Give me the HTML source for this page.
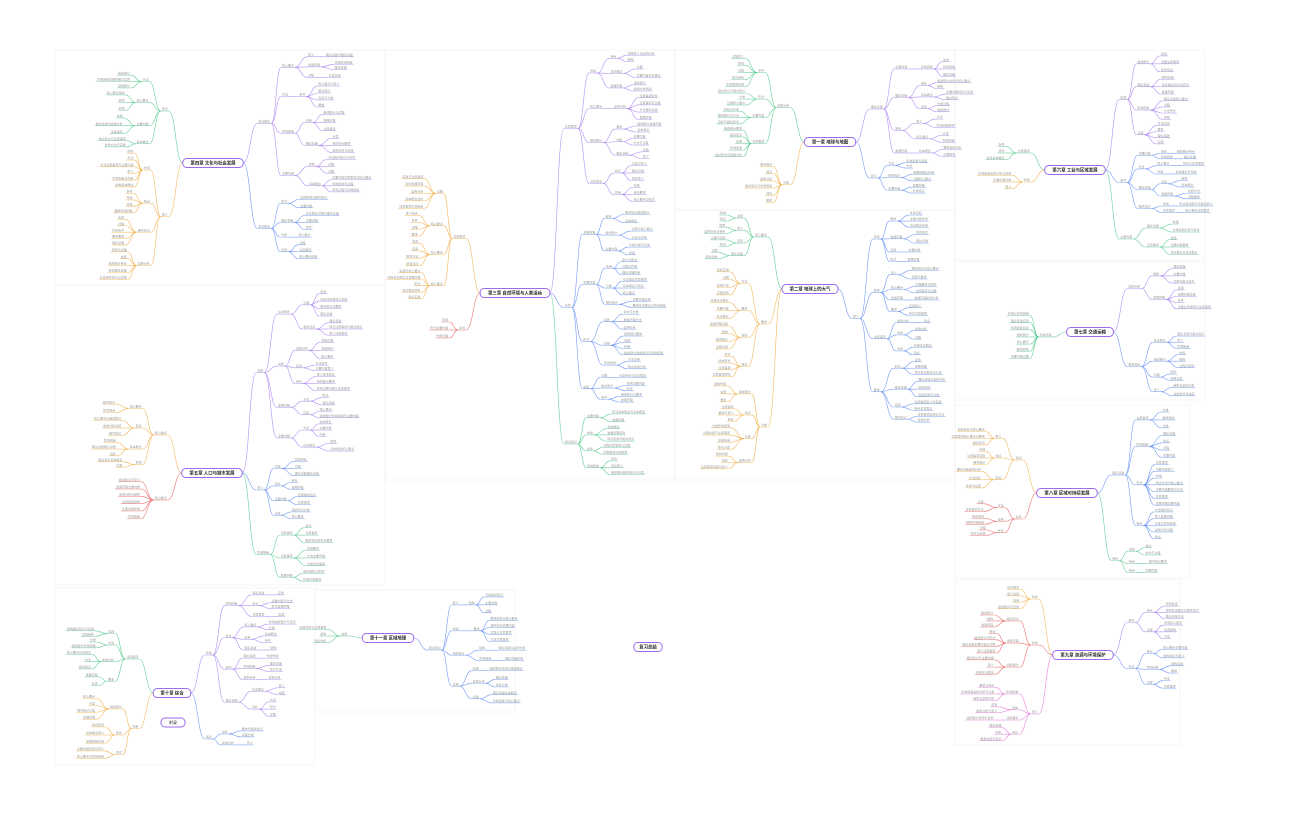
<!DOCTYPE html>
<html><head><meta charset="utf-8">
<style>
html,body{margin:0;padding:0;background:#fff;}
svg{display:block;font-family:"Liberation Sans","Noto Sans CJK SC",sans-serif;}
</style></head>
<body>
<svg id="s" width="1296" height="840" viewBox="0 0 1296 840" xmlns="http://www.w3.org/2000/svg">
<g fill="none" stroke="#f0f0f0" stroke-width="0.7">
<rect x="55" y="50" width="330" height="235"/>
<rect x="55" y="285" width="330" height="300"/>
<rect x="385" y="50" width="290" height="430"/>
<rect x="675" y="50" width="280" height="160"/>
<rect x="675" y="210" width="280" height="270"/>
<rect x="955" y="50" width="250" height="210"/>
<rect x="955" y="262" width="250" height="138"/>
<rect x="955" y="405" width="235" height="173"/>
<rect x="955" y="580" width="225" height="165"/>
<rect x="55" y="588" width="260" height="177"/>
<rect x="315" y="590" width="200" height="122"/>
</g>
<g id="g"></g>
</svg>
<script>
var seed=7;function r(){seed=(seed*16807)%2147483647;return seed/2147483647;}
var P=["基本概念","主要内容","特点","方法","应用","原则","意义","结构","要求","分类","作用","发展历程","影响因素","组成部分","相关知识","注意事项","实践","理论基础","核心要点","案例分析","总结","目标","过程","条件","形式"];
function lab(d){var s=P[Math.floor(r()*P.length)];if(d==0&&r()<0.5)s+=P[Math.floor(r()*P.length)];if(d==0&&r()<0.25)s+="与"+P[Math.floor(r()*P.length)];return s;}
var out=[];
function line(x0,y0,x1,y1,c){var m=(x0+x1)/2;out.push('<path d="M'+x0+' '+y0+'C'+m+' '+y0+' '+m+' '+y1+' '+x1+' '+y1+'" fill="none" stroke="'+c+'" stroke-width="0.6" stroke-opacity="0.85"/>');}
function node(x,y,dir,c,t,fs){var w=t.length*fs+2;var xs=dir>0?x:x-w;
out.push('<line x1="'+xs+'" y1="'+y+'" x2="'+(xs+w)+'" y2="'+y+'" stroke="'+c+'" stroke-width="0.5" stroke-opacity="0.8"/>');
out.push('<text x="'+(xs+1)+'" y="'+(y-0.9)+'" font-size="'+fs+'" fill="#9a9a9a">'+t+'</text>');return x+dir*w;}
function grow(px,py,x,dir,c,y0,y1,depth){var y=(y0+y1)/2;var t=lab(depth);var e=node(x,y,dir,c,t,3);line(px,py,x,y,c);
if(depth==0)return;var span=y1-y0;var n;
if(depth==1){n=Math.max(1,Math.round(span/7));}else{n=Math.max(1,Math.min(4,Math.round(span/20)+Math.floor(r()*2)));}
var ws=[],tot=0;for(var i=0;i<n;i++){var w=depth==1?1:0.6+r();ws.push(w);tot+=w;}
var yy=y0;var gx=e+dir*(8+r()*5);
for(i=0;i<n;i++){var h=span*ws[i]/tot;grow(e,y,gx,dir,c,yy,yy+h,depth-1);yy+=h;}}
function map(rx,ry,t,br){var w=t.length*4.6+10;
for(var i=0;i<br.length;i++){var b=br[i];var sx=rx+b[0]*w/2;grow(sx,ry,sx+b[0]*(b[5]||14),b[0],b[1],b[2],b[3],b[4]);}
out.push('<rect x="'+(rx-w/2)+'" y="'+(ry-4.5)+'" width="'+w+'" height="9" rx="4" fill="#fff" stroke="#9b6bf0" stroke-width="1"/>');
out.push('<text x="'+rx+'" y="'+(ry+1.6)+'" font-size="4.4" text-anchor="middle" fill="#222" font-weight="bold">'+t+'</text>');}
var PU="#a37bf2",BL="#5a8af5",GR="#4cc788",OR="#f2ab40",RD="#ea5a5a",PK="#e470d6";
map(213,163,"第四章 文化与社会发展",[[1,PU,52,195,3],[1,BL,195,262,2],[-1,GR,72,150,2],[-1,OR,150,283,2]]);
map(212,473,"第五章 人口与城市发展",[[1,PU,290,455,3],[1,BL,458,522,2],[1,GR,524,585,2],[-1,OR,400,470,2],[-1,RD,478,522,1]]);
map(515,293,"第三章 自然环境与人类活动",[[1,PU,52,205,3],[1,BL,210,405,3],[1,GR,410,478,2],[-1,OR,175,302,2],[-1,RD,318,342,1]]);
map(830,142,"第一章 地球与地图",[[1,PU,58,160,3],[1,BL,160,196,2],[-1,GR,55,160,2],[-1,OR,163,206,1]]);
map(810,289,"第二章 地球上的大气",[[1,BL,212,425,3],[-1,GR,212,262,2],[-1,OR,268,380,2],[-1,OR,382,472,2]]);
map(1075,170,"第六章 工业与区域发展",[[1,PU,52,147,2],[1,BL,150,215,3],[1,GR,220,258,2],[-1,GR,143,163,1],[-1,OR,172,192,1]]);
map(1090,332,"第七章 交通运输",[[1,PU,265,312,2],[1,BL,333,400,2],[-1,GR,312,362,1]]);
map(1067,493,"第八章 区域可持续发展",[[1,BL,408,542,2],[1,GR,544,577,2],[-1,OR,428,492,2],[-1,RD,500,538,2]]);
map(1083,655,"第九章 资源与环境保护",[[1,PU,603,642,2],[1,BL,645,692,2],[-1,OR,586,612,1],[-1,RD,612,678,2],[-1,PK,684,744,2]]);
map(172,693,"第十章 综合",[[1,PU,590,720,3],[1,BL,728,750,2],[-1,GR,628,690,2],[-1,OR,695,762,2]]);
map(388,638,"第十一章 区域地理",[[1,BL,593,707,3],[-1,GR,626,646,1]]);
out.push('<rect x="161" y="718" width="24" height="9" rx="4" fill="#fff" stroke="#9b6bf0" stroke-width="1"/><text x="173" y="724" font-size="4" text-anchor="middle" fill="#222">附录</text>');
map(648,647,"复习总结",[]);
document.getElementById("g").innerHTML=out.join("");
</script>
</body></html>
